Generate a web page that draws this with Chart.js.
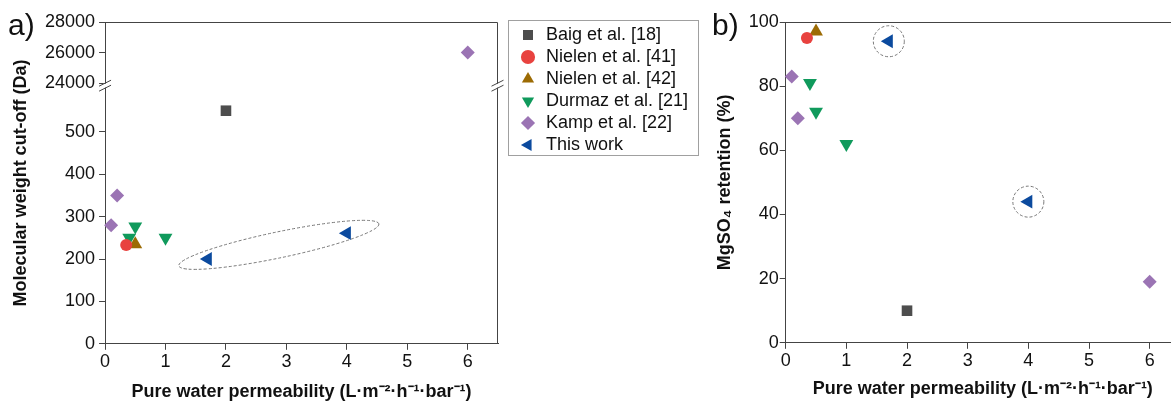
<!DOCTYPE html>
<html>
<head>
<meta charset="utf-8">
<script src="https://cdn.jsdelivr.net/npm/chart.js@4"></script>
<style>
  html, body { margin: 0; padding: 0; background: #fff; overflow: hidden; width: 1171px; height: 403px; }
  .panel { position: absolute; top: 0; height: 403px; }
  #wrapA { left: 0; width: 506px; }
  #wrapB { left: 503px; width: 685px; }
  .tag { position: absolute; top: 10px; font: 30px "Liberation Sans", Arial, sans-serif; line-height: 30px; color: #111; }
</style>
</head>
<body>
<div class="panel" id="wrapA"><canvas id="chartA" width="506" height="403"></canvas></div>
<div class="panel" id="wrapB"><canvas id="chartB" width="685" height="403"></canvas></div>
<div class="tag" style="left:8px">a)</div>
<div class="tag" style="left:712px">b)</div>
<script>
// Series (shared by both panels)
var seriesNames = ['Baig et al. [18]', 'Nielen et al. [41]', 'Nielen et al. [42]', 'Durmaz et al. [21]', 'Kamp et al. [22]', 'This work'];

// Panel a: pure water permeability vs molecular weight cut-off (Da)
var mwcoBaig = [[2, 550]];
var mwcoNielen41 = [[0.35, 233]];
var mwcoNielen42 = [[0.5, 235]];
var mwcoDurmaz = [[0.4, 250], [0.5, 277], [1.0, 250]];
var mwcoKamp = [[0.1, 280], [0.2, 350], [6, 26000]];
var mwcoThisWork = [[1.7, 200], [4, 261]];

// Panel b: pure water permeability vs MgSO4 retention (%)
var retBaig = [[2, 10]];
var retNielen41 = [[0.35, 95]];
var retNielen42 = [[0.5, 97]];
var retDurmaz = [[0.4, 81], [0.5, 72], [1.0, 62]];
var retKamp = [[0.1, 83], [0.2, 70], [6, 19]];
var retThisWork = [[1.7, 94], [4, 44]];

// Ticks
var permTicks = [0, 1, 2, 3, 4, 5, 6];
var mwcoLowTicks = [0, 100, 200, 300, 400, 500];
var mwcoHighTicks = [24000, 26000, 28000];
var retTicks = [0, 20, 40, 60, 80, 100];

// Annotations: dashed ellipse (panel a) and circles (panel b) around "This work"
var ellipseEnds = [[1.22, 184], [4.53, 283]];
var circledPoints = retThisWork;

// Styles
var seriesColors = ['#4d4d4d', '#e8423f', '#9c6b04', '#109a5c', '#9b74b4', '#0b4a9e'];
var seriesShapes = ['rect', 'circle', 'triangle', 'triangle', 'rectRot', 'triangle'];
var seriesRotation = [0, 0, 0, 180, 0, -90];
var seriesRadius = [7.5, 6, 8, 8, 7, 8];
var axisColor = '#444';

Chart.defaults.font.family = "'Liberation Sans', Arial, sans-serif";
Chart.defaults.font.size = 18;
Chart.defaults.color = '#111';

function toPoints(pairs) {
    return pairs.map(function(p) { return { x: p[0], y: p[1] }; });
}

function makeDataset(i, pairs, axisId) {
    return {
        label: seriesNames[i],
        data: toPoints(pairs),
        yAxisID: axisId,
        pointStyle: seriesShapes[i],
        rotation: seriesRotation[i],
        pointRadius: seriesRadius[i],
        pointHoverRadius: seriesRadius[i],
        backgroundColor: seriesColors[i],
        borderColor: seriesColors[i],
        borderWidth: 0,
        clip: false
    };
}

function fixedTicks(list) {
    return function(scale) {
        scale.ticks = list.map(function(v) { return { value: v }; });
    };
}

function plainTicks(pad) {
    return {
        padding: pad, color: '#111', autoSkip: false,
        callback: function(v) { return String(v); }
    };
}

function axisGrid() {
    return { drawOnChartArea: false, drawTicks: true, tickLength: 6, color: axisColor };
}

var xTitle = 'Pure water permeability (L\u00b7m\u207b\u00b2\u00b7h\u207b\u00b9\u00b7bar\u207b\u00b9)';

function permAxis(titlePad) {
    return {
        type: 'linear', min: 0, max: 6.5,
        afterBuildTicks: fixedTicks(permTicks),
        ticks: plainTicks(1),
        grid: axisGrid(),
        border: { color: axisColor },
        title: { display: true, text: xTitle, font: { weight: 'bold', size: 18 }, color: '#111', padding: titlePad }
    };
}

// Panel a: split the points between the lower and upper (broken) axis
var mwcoSeries = [mwcoBaig, mwcoNielen41, mwcoNielen42, mwcoDurmaz, mwcoKamp, mwcoThisWork];
var datasetsA = [];
mwcoSeries.forEach(function(pairs, i) {
    var low = pairs.filter(function(p) { return p[1] < 24000; });
    var high = pairs.filter(function(p) { return p[1] >= 24000; });
    if (low.length) datasetsA.push(makeDataset(i, low, 'y'));
    if (high.length) datasetsA.push(makeDataset(i, high, 'y2'));
});

var decorA = {
    id: 'decorA',
    afterDraw: function(chart) {
        var ctx = chart.ctx, a = chart.chartArea, s = chart.scales;
        var yb = s.y2.bottom;
        ctx.save();
        ctx.strokeStyle = axisColor;
        ctx.lineWidth = 1;
        ctx.beginPath();
        ctx.moveTo(a.left, a.top + 0.5);
        ctx.lineTo(a.right - 0.5, a.top + 0.5);
        ctx.lineTo(a.right - 0.5, a.bottom);
        ctx.stroke();
        // axis breaks
        [a.left, a.right - 0.5].forEach(function(x) {
            ctx.fillStyle = '#fff';
            ctx.fillRect(x - 2, yb + 0.5, 4, 4);
            ctx.beginPath();
            ctx.moveTo(x - 6, yb + 3); ctx.lineTo(x + 6, yb - 3);
            ctx.moveTo(x - 6, yb + 8); ctx.lineTo(x + 6, yb + 2);
            ctx.stroke();
        });
        // y title spanning both parts of the axis
        ctx.fillStyle = '#111';
        ctx.font = "bold 18px 'Liberation Sans', Arial, sans-serif";
        ctx.textAlign = 'center';
        ctx.textBaseline = 'middle';
        ctx.translate(21, (a.top + a.bottom) / 2);
        ctx.rotate(-Math.PI / 2);
        ctx.fillText('Molecular weight cut-off (Da)', 0, 0);
        ctx.setTransform(1, 0, 0, 1, 0, 0);
        // dashed ellipse round "This work"
        var x1 = s.x.getPixelForValue(ellipseEnds[0][0]), y1 = s.y.getPixelForValue(ellipseEnds[0][1]);
        var x2 = s.x.getPixelForValue(ellipseEnds[1][0]), y2 = s.y.getPixelForValue(ellipseEnds[1][1]);
        ctx.strokeStyle = '#777';
        ctx.setLineDash([3, 2]);
        ctx.beginPath();
        ctx.ellipse((x1 + x2) / 2, (y1 + y2) / 2, Math.hypot(x2 - x1, y2 - y1) / 2, 13,
            Math.atan2(y2 - y1, x2 - x1), 0, 2 * Math.PI);
        ctx.stroke();
        ctx.restore();
    }
};

new Chart(document.getElementById('chartA'), {
    type: 'scatter',
    data: { datasets: datasetsA },
    options: {
        responsive: false,
        animation: false,
        events: [],
        layout: { padding: { left: 41, top: 22, right: 4, bottom: 0 } },
        plugins: { legend: { display: false }, tooltip: { enabled: false } },
        scales: {
            x: permAxis({ top: 8, bottom: 0 }),
            y: {
                type: 'linear', position: 'left', stack: 'mw', stackWeight: 4.26,
                min: 0, max: 615,
                afterBuildTicks: fixedTicks(mwcoLowTicks),
                ticks: plainTicks(4),
                grid: axisGrid(),
                border: { color: axisColor }
            },
            y2: {
                type: 'linear', position: 'left', stack: 'mw', stackWeight: 1,
                min: 24000, max: 28000,
                afterBuildTicks: fixedTicks(mwcoHighTicks),
                ticks: plainTicks(4),
                grid: axisGrid(),
                border: { color: axisColor }
            }
        }
    },
    plugins: [decorA]
});

// Panel b
var retSeries = [retBaig, retNielen41, retNielen42, retDurmaz, retKamp, retThisWork];
var datasetsB = retSeries.map(function(pairs, i) { return makeDataset(i, pairs, 'y'); });

var decorB = {
    id: 'decorB',
    afterDraw: function(chart) {
        var ctx = chart.ctx, a = chart.chartArea, s = chart.scales;
        ctx.save();
        ctx.strokeStyle = axisColor;
        ctx.lineWidth = 1;
        ctx.beginPath();
        ctx.moveTo(a.left, a.top + 0.5);
        ctx.lineTo(a.right - 0.5, a.top + 0.5);
        ctx.lineTo(a.right - 0.5, a.bottom);
        ctx.stroke();
        // legend frame
        var hb = chart.legend.legendHitBoxes;
        if (hb && hb.length) {
            var l = Infinity, r = -Infinity, t = Infinity, b = -Infinity;
            hb.forEach(function(h) {
                l = Math.min(l, h.left); r = Math.max(r, h.left + h.width);
                t = Math.min(t, h.top); b = Math.max(b, h.top + h.height);
            });
            ctx.strokeStyle = '#a0a0a0';
            ctx.strokeRect(Math.round(l - 11) + 0.5, Math.round(t - 6) + 0.5, Math.round(r - l + 21), Math.round(b - t + 7));
        }
        // dashed circles round "This work"
        ctx.strokeStyle = '#777';
        ctx.setLineDash([3, 2]);
        circledPoints.forEach(function(p) {
            ctx.beginPath();
            ctx.arc(s.x.getPixelForValue(p[0]), s.y.getPixelForValue(p[1]), 15.5, 0, 2 * Math.PI);
            ctx.stroke();
        });
        ctx.restore();
    }
};

new Chart(document.getElementById('chartB'), {
    type: 'scatter',
    data: { datasets: datasetsB },
    options: {
        responsive: false,
        animation: false,
        events: [],
        layout: { padding: { left: 12, top: 22, right: 6, bottom: 3 } },
        plugins: {
            tooltip: { enabled: false },
            legend: {
                position: 'left',
                align: 'start',
                maxWidth: 220,
                labels: {
                    usePointStyle: true,
                    boxHeight: 10,
                    padding: 4,
                    color: '#111',
                    font: { size: 18 }
                }
            }
        },
        scales: {
            x: permAxis({ top: 6, bottom: 0 }),
            y: {
                type: 'linear', position: 'left', min: 0, max: 100,
                afterBuildTicks: fixedTicks(retTicks),
                ticks: plainTicks(1),
                grid: axisGrid(),
                border: { color: axisColor },
                title: {
                    display: true, text: 'MgSO\u2084 retention (%)', color: '#111',
                    font: { weight: 'bold', size: 18 }, padding: { top: 16, bottom: 12 }
                }
            }
        }
    },
    plugins: [decorB]
});
</script>
</body>
</html>
